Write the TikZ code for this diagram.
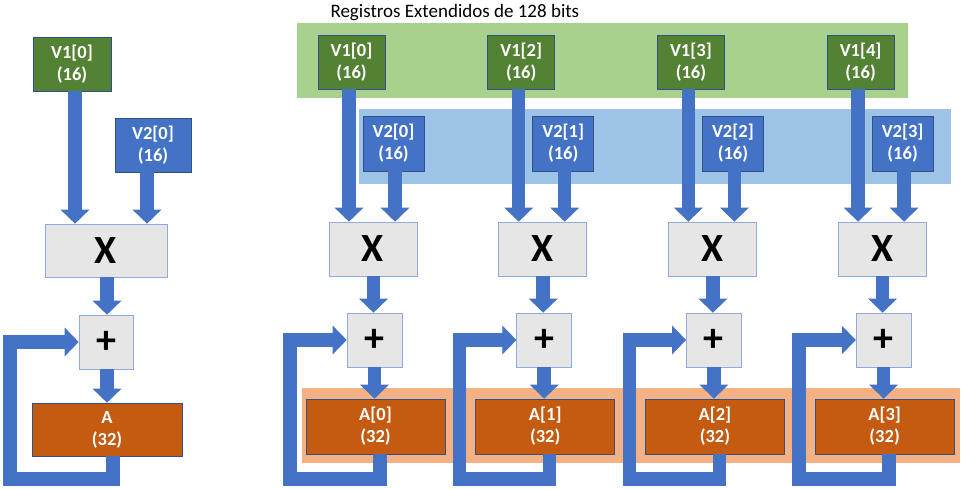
\documentclass[tikz,border=0pt]{standalone}
\usepackage{fontspec}
\setmainfont{Carlito}
\usepackage{xcolor}
\usetikzlibrary{arrows.meta,positioning,calc}
\definecolor{vgreen}{HTML}{548235}
\definecolor{bandgreen}{HTML}{A9D18E}
\definecolor{vblue}{HTML}{4472C4}
\definecolor{bandblue}{HTML}{9DC3E6}
\definecolor{opgrey}{HTML}{E7E6E6}
\definecolor{accorange}{HTML}{C55A11}
\definecolor{bandorange}{HTML}{F4B183}
\definecolor{edge}{HTML}{2F528F}
\definecolor{opedge}{HTML}{8FAADC}

\begin{document}
\begin{tikzpicture}[x=1pt,y=-1pt,
  reg/.style={draw=edge,line width=0.6pt,inner sep=0pt,align=center,text=white,font=\bfseries\fontsize{18.5}{22}\selectfont},
  vone/.style={reg,fill=vgreen,minimum height=54pt},
  vtwo/.style={reg,fill=vblue,minimum height=55pt},
  acc/.style={reg,fill=accorange,minimum height=55pt},
  op/.style={reg,fill=opgrey,draw=opedge,text=black,font=\bfseries\fontsize{40}{40}\selectfont,minimum height=54pt},
  arr/.style={-{Triangle[length=14pt,width=28pt]},draw=vblue,line width=13.5pt,line join=miter}]
  \useasboundingbox (0,0) rectangle (964,489);
  % register bands
  \fill[bandgreen] (297,23) rectangle (908,98);
  \fill[bandblue] (359,109) rectangle (951,184);
  \fill[bandorange] (302,388) rectangle (960,463);
  \node[anchor=west,font=\fontsize{19}{22}\selectfont] (title) at (327,13) {Registros Extendidos de 128 bits};
  % scalar version
  \node[vone,minimum width=78pt] (v1l) at (72,64) {V1[0]\\(16)};
  \node[vtwo,minimum width=76pt,minimum height=54pt] (v2l) at (153,145) {V2[0]\\(16)};
  \node[op,minimum width=122pt,minimum height=53pt] (mull) at (106,250.5) {X};
  \node[op,minimum width=54pt] (addl) at (106,342) {+};
  \node[acc,minimum width=150pt,minimum height=53pt] (accl) at (107,429.5) {A\\(32)};
  \coordinate (fbl) at (10,479);
  \draw[arr] ([xshift=3pt]v1l.south) -- ([xshift=-31pt]mull.north);
  \draw[arr] ([xshift=-6pt]v2l.south) -- ([xshift=41pt]mull.north);
  \draw[arr] ([xshift=1pt]mull.south) -- ([xshift=1pt]addl.north);
  \draw[arr] ([xshift=1pt]addl.south) -- (accl.north);
  \draw[arr] ([xshift=6pt]accl.south) |- (fbl) |- (addl.west);
  % vector lanes
  \foreach \i/\p in {0/0,1/2,2/3,3/4}{
    \begin{scope}[xshift=169.7*\i]
      \node[vone,minimum width=67pt] (v1-\i) at (351.5,62) {V1[\p]\\(16)};
      \node[vtwo,minimum width=61pt] (v2-\i) at (393.5,143.5) {V2[\i]\\(16)};
      \node[op,minimum width=88pt] (mul-\i) at (373,249) {X};
      \node[op,minimum width=55pt] (add-\i) at (374.5,340) {+};
      \node[acc,minimum width=139pt] (acc-\i) at (375.5,426.5) {A[\i]\\(32)};
      \coordinate (fb-\i) at (290,479);
      \draw[arr] ([xshift=-2.5pt]v1-\i.south) -- ([xshift=-24pt]mul-\i.north);
      \draw[arr] ([xshift=1.5pt]v2-\i.south) -- ([xshift=22pt]mul-\i.north);
      \draw[arr] ([xshift=0.5pt]mul-\i.south) -- ([xshift=-1pt]add-\i.north);
      \draw[arr] (add-\i.south) -- ([xshift=-1pt]acc-\i.north);
      \draw[arr] ([xshift=4.5pt]acc-\i.south) |- (fb-\i) |- (add-\i.west);
    \end{scope}
  }
\end{tikzpicture}
\end{document}
